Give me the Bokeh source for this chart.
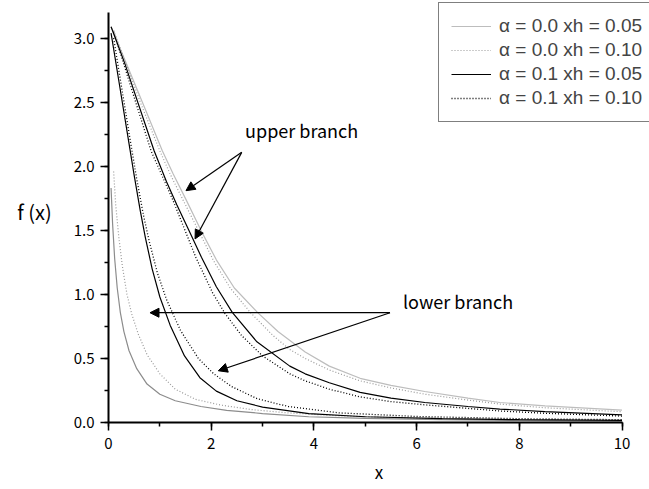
from bokeh.plotting import figure
from bokeh.models import (Legend, LegendItem, Label, Arrow, NormalHead,
                          SingleIntervalTicker, PrintfTickFormatter)
from bokeh.embed import file_html
from bokeh.resources import INLINE

# ---- data ----
# alpha = 0.0, xh = 0.05
a0_h05_upper_x = [0.05, 0.35, 0.66, 1.05, 1.26, 1.51, 1.80, 2.10, 2.45, 2.90, 3.30, 3.83, 4.30, 4.90, 5.50, 6.16, 7.00, 7.62, 8.50, 10.0]
a0_h05_upper_y = [3.09, 2.80, 2.50, 2.12, 1.94, 1.74, 1.50, 1.27, 1.05, 0.86, 0.71, 0.55, 0.44, 0.345, 0.29, 0.242, 0.19, 0.156, 0.13, 0.097]
a0_h05_lower_x = [0.05, 0.08, 0.12, 0.17, 0.23, 0.30, 0.40, 0.55, 0.75, 1.00, 1.30, 1.80, 2.30, 3.00, 3.90, 5.00, 6.50, 8.00, 10.0]
a0_h05_lower_y = [1.83, 1.55, 1.28, 1.05, 0.86, 0.71, 0.56, 0.42, 0.30, 0.22, 0.17, 0.125, 0.095, 0.07, 0.045, 0.032, 0.022, 0.016, 0.010]
# alpha = 0.0, xh = 0.10
a0_h10_upper_x = [0.10, 0.38, 0.62, 1.00, 1.20, 1.46, 1.75, 2.05, 2.37, 2.76, 3.20, 3.53, 3.83, 4.30, 4.90, 5.50, 6.16, 7.00, 7.62, 8.50, 10.0]
a0_h10_upper_y = [3.06, 2.76, 2.50, 2.12, 1.94, 1.73, 1.50, 1.26, 1.05, 0.86, 0.68, 0.57, 0.50, 0.41, 0.325, 0.27, 0.221, 0.175, 0.144, 0.115, 0.084]
a0_h10_lower_x = [0.10, 0.14, 0.20, 0.27, 0.36, 0.45, 0.58, 0.75, 1.00, 1.30, 1.70, 2.20, 2.80, 3.50, 4.50, 6.00, 8.00, 10.0]
a0_h10_lower_y = [1.96, 1.70, 1.45, 1.22, 1.00, 0.85, 0.69, 0.53, 0.38, 0.26, 0.18, 0.135, 0.10, 0.075, 0.052, 0.034, 0.022, 0.015]
# alpha = 0.1, xh = 0.05
a1_h05_upper_x = [0.05, 0.32, 0.57, 0.89, 1.13, 1.33, 1.59, 1.81, 2.10, 2.41, 2.89, 3.53, 3.83, 4.30, 4.90, 5.50, 6.16, 7.00, 7.62, 8.50, 10.0]
a1_h05_upper_y = [3.09, 2.80, 2.50, 2.12, 1.88, 1.70, 1.48, 1.29, 1.06, 0.86, 0.63, 0.44, 0.38, 0.31, 0.235, 0.19, 0.156, 0.125, 0.105, 0.085, 0.060]
a1_h05_lower_x = [0.05, 0.20, 0.35, 0.50, 0.62, 0.72, 0.85, 1.00, 1.20, 1.48, 1.78, 2.10, 2.50, 3.00, 3.90, 5.00, 6.50, 8.00, 10.0]
a1_h05_lower_y = [3.04, 2.67, 2.30, 1.93, 1.65, 1.44, 1.20, 0.98, 0.76, 0.52, 0.35, 0.245, 0.17, 0.12, 0.07, 0.045, 0.030, 0.022, 0.016]
# alpha = 0.1, xh = 0.10
a1_h10_upper_x = [0.10, 0.32, 0.53, 0.83, 1.05, 1.26, 1.49, 1.70, 2.03, 2.27, 2.59, 3.00, 3.53, 3.83, 4.30, 4.90, 5.50, 6.16, 7.00, 7.62, 8.50, 10.0]
a1_h10_upper_y = [3.05, 2.77, 2.50, 2.12, 1.92, 1.73, 1.50, 1.29, 1.01, 0.85, 0.68, 0.52, 0.38, 0.325, 0.26, 0.20, 0.163, 0.138, 0.11, 0.09, 0.072, 0.050]
a1_h10_lower_x = [0.10, 0.25, 0.40, 0.55, 0.68, 0.79, 0.95, 1.13, 1.40, 1.75, 2.05, 2.40, 2.90, 3.50, 4.50, 6.00, 8.00, 10.0]
a1_h10_lower_y = [3.00, 2.63, 2.26, 1.90, 1.62, 1.42, 1.17, 0.96, 0.72, 0.50, 0.38, 0.28, 0.185, 0.125, 0.075, 0.047, 0.030, 0.022]

legend_labels = ["α = 0.0 xh = 0.05", "α = 0.0 xh = 0.10", "α = 0.1 xh = 0.05", "α = 0.1 xh = 0.10"]
x_label = "x"
y_label = "f (x)"
upper_text = "upper branch"
lower_text = "lower branch"

# annotation arrows: (x_start, y_start, x_end, y_end)
upper_arrows = [(2.594, 2.109, 1.509, 1.810), (2.594, 2.109, 1.685, 1.433)]
lower_arrows = [(5.482, 0.857, 0.808, 0.857), (5.482, 0.857, 2.138, 0.404)]

AX_FONT = "Noto Sans CJK JP"

p = figure(width=649, height=489, x_range=(0, 10.535), y_range=(0, 3.2945),
           output_backend="svg", toolbar_location=None,
           min_border_left=108, min_border_right=0,
           min_border_top=0, min_border_bottom=67)
p.grid.visible = False
p.outline_line_color = None
p.background_fill_color = "white"

for ax in (p.xaxis[0], p.yaxis[0]):
    ax.axis_line_width = 2
    ax.axis_line_color = "black"
    ax.major_tick_line_width = 1.5
    ax.minor_tick_line_width = 1.5
    ax.major_tick_in = 0
    ax.major_tick_out = 8
    ax.minor_tick_in = 0
    ax.minor_tick_out = 4
    ax.major_label_text_font = AX_FONT
    ax.major_label_text_font_size = "15px"
    ax.major_label_text_color = "black"
    ax.axis_label_text_font = AX_FONT
    ax.axis_label_text_font_style = "normal"
    ax.axis_label_text_color = "black"

p.xaxis.bounds = (0, 10)
p.yaxis.bounds = (0, 3.2)
p.xaxis.ticker = SingleIntervalTicker(interval=2, num_minor_ticks=2)
p.yaxis.ticker = SingleIntervalTicker(interval=0.5, num_minor_ticks=2)
p.yaxis.formatter = PrintfTickFormatter(format="%.1f")
p.xaxis.major_label_standoff = 7
p.yaxis.major_label_standoff = 6
p.xaxis.axis_label = x_label
p.xaxis.axis_label_text_font_size = "17px"
p.xaxis.axis_label_standoff = 7
p.yaxis.axis_label = y_label
p.yaxis.axis_label_text_font_size = "20px"
p.yaxis.axis_label_orientation = "horizontal"
p.yaxis.axis_label_standoff = 19

light = "#bdbdbd"
mid = "#8c8c8c"
dotgray = "#9a9a9a"

r1u = p.line(a0_h05_upper_x, a0_h05_upper_y, line_color=light, line_width=1.2)
r1l = p.line(a0_h05_lower_x, a0_h05_lower_y, line_color=mid, line_width=1.2)
r2u = p.line(a0_h10_upper_x, a0_h10_upper_y, line_color=dotgray, line_width=1.2, line_dash="1 2")
r2l = p.line(a0_h10_lower_x, a0_h10_lower_y, line_color=dotgray, line_width=1.2, line_dash="1 2")
r3u = p.line(a1_h05_upper_x, a1_h05_upper_y, line_color="black", line_width=1.2)
r3l = p.line(a1_h05_lower_x, a1_h05_lower_y, line_color="black", line_width=1.2)
r4u = p.line(a1_h10_upper_x, a1_h10_upper_y, line_color="black", line_width=1.3, line_dash="1 2")
r4l = p.line(a1_h10_lower_x, a1_h10_lower_y, line_color="black", line_width=1.3, line_dash="1 2")

for (xs, ys, xe, ye) in upper_arrows + lower_arrows:
    p.add_layout(Arrow(end=NormalHead(size=9, fill_color="black", line_color="black", line_width=1),
                       x_start=xs, y_start=ys, x_end=xe, y_end=ye,
                       line_color="black", line_width=1.2))

p.add_layout(Label(x=2.66, y=2.28, text=upper_text, text_font=AX_FONT, text_font_size="18px",
                   text_baseline="middle", text_align="left", text_color="black"))
p.add_layout(Label(x=5.735, y=0.95, text=lower_text, text_font=AX_FONT, text_font_size="18px",
                   text_baseline="middle", text_align="left", text_color="black"))

legend = Legend(items=[LegendItem(label=legend_labels[0], renderers=[r1u]),
                       LegendItem(label=legend_labels[1], renderers=[r2u]),
                       LegendItem(label=legend_labels[2], renderers=[r3u]),
                       LegendItem(label=legend_labels[3], renderers=[r4u])],
                location=(330, 300))
legend.label_text_font = "Liberation Sans"
legend.label_text_font_size = "19px"
legend.label_height = 22
legend.glyph_height = 22
legend.glyph_width = 40
legend.label_standoff = 8
legend.spacing = 2
legend.padding = 12
legend.margin = 0
legend.border_line_color = "black"
legend.border_line_width = 1
legend.background_fill_alpha = 1
p.add_layout(legend)

open("out.html", "w").write(file_html(p, INLINE))
